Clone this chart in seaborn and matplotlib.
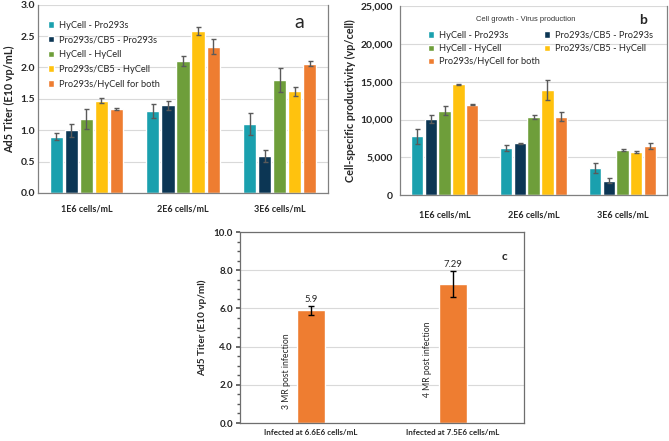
import numpy as np
import pandas as pd
import seaborn as sns
import matplotlib.pyplot as plt
from matplotlib.ticker import FuncFormatter, MultipleLocator

# panel a / b data
groups = ["1E6 cells/mL", "2E6 cells/mL", "3E6 cells/mL"]
conditions = ["HyCell - Pro293s", "Pro293s/CB5 - Pro293s", "HyCell - HyCell",
              "Pro293s/CB5 - HyCell", "Pro293s/HyCell for both"]
colors = ["#1AA0AE", "#0C3654", "#6E9E3A", "#FFC20E", "#EE7D31"]

titer_a = [[0.90, 1.00, 1.18, 1.47, 1.34],
           [1.30, 1.40, 2.10, 2.58, 2.33],
           [1.10, 0.59, 1.80, 1.62, 2.06]]
titer_a_err = [[0.06, 0.10, 0.16, 0.04, 0.02],
               [0.11, 0.07, 0.08, 0.06, 0.12],
               [0.17, 0.10, 0.19, 0.07, 0.04]]

prod_b = [[7800, 10050, 11200, 14700, 12000],
          [6200, 6850, 10350, 13950, 10350],
          [3600, 1900, 5950, 5700, 6500]]
prod_b_err = [[1000, 550, 550, 60, 60],
              [400, 80, 300, 1300, 600],
              [700, 350, 150, 150, 400]]

# panel c data
infect_labels = ["Infected at 6.6E6 cells/mL", "Infected at 7.5E6 cells/mL"]
titer_c = [5.9, 7.29]
titer_c_err = [0.25, 0.68]
mr_labels = ["3 MR post infection", "4 MR post infection"]

sns.set_theme(style="white")
plt.rcParams['font.family'] = ['Lato', 'DejaVu Sans']

fig = plt.figure(figsize=(6.69, 4.41), dpi=100)
ax_a = fig.add_axes([0.0568, 0.5624, 0.4335, 0.4269])
ax_b = fig.add_axes([0.598, 0.5578, 0.399, 0.4275])
ax_c = fig.add_axes([0.3587, 0.0408, 0.4246, 0.4331])


def long_df(vals, errs):
    rows = []
    for g, vrow, erow in zip(groups, vals, errs):
        for c, v, e in zip(conditions, vrow, erow):
            rows.append({"group": g, "cond": c, "val": v, "err": e})
    return pd.DataFrame(rows)


def grouped(ax, df):
    sns.barplot(data=df, x="group", y="val", hue="cond", hue_order=conditions,
                palette=colors, width=0.78, gap=0.12, saturation=1,
                errorbar=None, ax=ax, legend=True)
    for cont, cond in zip(ax.containers, conditions):
        sub = df[df.cond == cond]
        xs = [b.get_x() + b.get_width() / 2 for b in cont]
        ax.errorbar(xs, sub.val.values, yerr=sub.err.values, fmt="none",
                    ecolor="#5A5A5A", elinewidth=1.0, capsize=1.8, capthick=1.0)
    ax.set_xlim(-0.5, len(groups) - 0.5)
    ax.set_xlabel("")
    ax.grid(axis="y", color="#D9D9D9", lw=0.8)
    ax.set_axisbelow(True)
    ax.tick_params(axis="x", length=0, labelsize=6.5, pad=8)
    ax.tick_params(axis="y", labelsize=7.5, length=3, color="#808080", pad=2)
    for t in ax.get_xticklabels() + ax.get_yticklabels():
        t.set_fontweight("bold")
    for s in ["left", "bottom", "right"]:
        ax.spines[s].set_color("#808080")
        ax.spines[s].set_linewidth(0.9)
    ax.spines["top"].set_visible(False)


# panel a
grouped(ax_a, long_df(titer_a, titer_a_err))
ax_a.set_ylim(0, 3.0)
ax_a.yaxis.set_major_locator(MultipleLocator(0.5))
ax_a.yaxis.set_major_formatter(FuncFormatter(lambda v, p: f"{v:.1f}"))
ax_a.set_ylabel("Ad5 Titer (E10 vp/mL)", fontsize=7.8, fontweight="bold", labelpad=4)
ax_a.tick_params(axis="y", length=0)
ax_a.legend(loc="upper left", bbox_to_anchor=(0.02, 0.935), frameon=False,
            fontsize=6.7, handlelength=0.7, handleheight=0.7, handletextpad=0.5,
            labelspacing=0.62, borderaxespad=0)
ax_a.text(0.90, 0.86, "a", transform=ax_a.transAxes, fontsize=14,
          ha="center", va="bottom")

# panel b
grouped(ax_b, long_df(prod_b, prod_b_err))
ax_b.set_ylim(0, 25000)
ax_b.yaxis.set_major_locator(MultipleLocator(5000))
ax_b.yaxis.set_major_formatter(FuncFormatter(lambda v, p: f"{int(v):,}"))
ax_b.set_ylabel("Cell-specific productivity (vp/cell)", fontsize=7.8,
                fontweight="bold", labelpad=3)
ax_b.tick_params(axis="x", pad=11)
handles, labels = ax_b.get_legend_handles_labels()
order = [0, 2, 4, 1, 3]
ax_b.legend([handles[i] for i in order], [labels[i] for i in order],
            loc="upper left", bbox_to_anchor=(0.09, 0.89), ncol=2, frameon=False,
            fontsize=6.7, handlelength=0.7, handleheight=0.7, handletextpad=0.5,
            labelspacing=0.45, columnspacing=0.4, borderaxespad=0)
ax_b.text(0.47, 0.93, "Cell growth - Virus production", transform=ax_b.transAxes,
          fontsize=5.4, family=["Liberation Sans Narrow", "Liberation Sans"],
          ha="center", va="center", color="#333333")
ax_b.text(0.91, 0.93, "b", transform=ax_b.transAxes, fontsize=10,
          fontweight="bold", ha="center", va="center")

# panel c
df_c = pd.DataFrame({"label": infect_labels, "val": titer_c, "err": titer_c_err})
sns.barplot(data=df_c, x="label", y="val", color="#EE7D31", saturation=1,
            width=0.2, errorbar=None, ax=ax_c)
xs_c = [b.get_x() + b.get_width() / 2 for b in ax_c.containers[0]]
ax_c.errorbar(xs_c, df_c.val, yerr=df_c.err, fmt="none", ecolor="black",
              elinewidth=1.0, capsize=2, capthick=1.0)
for x, v, e in zip(xs_c, titer_c, titer_c_err):
    ax_c.text(x, v + e + 0.1, f"{v:g}", ha="center", va="bottom", fontsize=6.8)
ax_c.text(xs_c[0] - 0.17, 0.72, mr_labels[0], rotation=90, ha="center",
          va="bottom", fontsize=6.2)
ax_c.text(xs_c[1] - 0.18, 1.36, mr_labels[1], rotation=90, ha="center",
          va="bottom", fontsize=6.2)
ax_c.set_xlim(-0.5, 1.5)
ax_c.set_ylim(0, 10)
ax_c.yaxis.set_major_locator(MultipleLocator(2))
ax_c.yaxis.set_minor_locator(MultipleLocator(0.5))
ax_c.yaxis.set_major_formatter(FuncFormatter(lambda v, p: f"{v:.1f}"))
ax_c.grid(axis="y", which="major", color="#D9D9D9", lw=0.8)
ax_c.set_axisbelow(True)
ax_c.set_xlabel("")
ax_c.set_ylabel("Ad5 Titer (E10 vp/ml)", fontsize=7.2, fontweight="bold", labelpad=5)
ax_c.tick_params(axis="x", length=0, labelsize=5.8, pad=4)
ax_c.tick_params(axis="y", which="major", labelsize=7, length=3, color="#595959",
                 left=True, pad=2)
ax_c.tick_params(axis="y", which="minor", length=2, color="#595959", left=True)
for t in ax_c.get_xticklabels() + ax_c.get_yticklabels():
    t.set_fontweight("bold")
for s in ax_c.spines.values():
    s.set_color("#6E6E6E")
    s.set_linewidth(0.9)
ax_c.text(0.93, 0.87, "c", transform=ax_c.transAxes, fontsize=8.5,
          fontweight="bold", ha="center", va="center")

fig.savefig("out.png", dpi=100)
